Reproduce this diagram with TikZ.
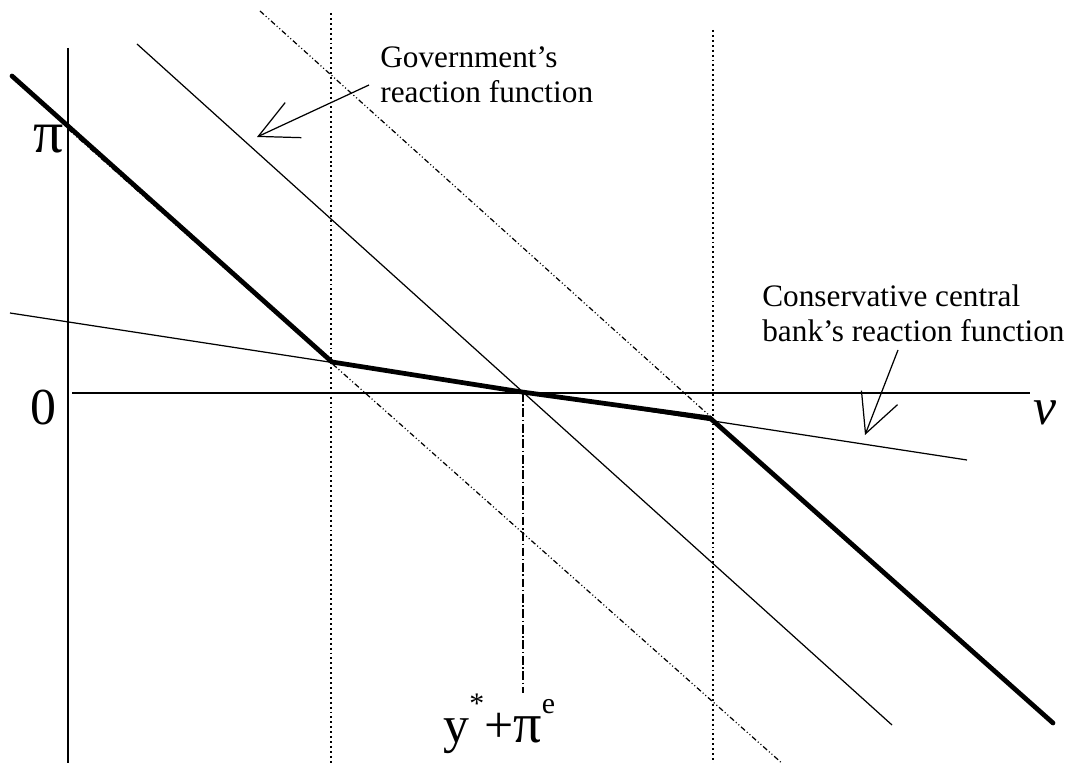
\documentclass[tikz,border=0pt]{standalone}
\usepackage{fontspec}
\setmainfont{Liberation Serif}
\usetikzlibrary{arrows.meta,positioning,calc}
\tikzset{
  axisline/.style={line width=0.7pt,draw=black},
  govline/.style={line width=0.7pt,draw=black},
  govshift/.style={line width=0.7pt,draw=black,dash pattern=on 3pt off 1.4pt on 0.6pt off 1.4pt on 0.6pt off 1.4pt},
  bankline/.style={line width=0.7pt,draw=black},
  boundline/.style={line width=1.1pt,draw=black,dash pattern=on 1.1pt off 1.7pt},
  eqline/.style={line width=0.7pt,draw=black,dash pattern=on 5pt off 1.5pt on 0.8pt off 1.5pt},
  policyline/.style={line width=2.7pt,draw=black,line cap=round,line join=round},
  notearrow/.style={-{Straight Barb[length=22pt,width=22pt]},line width=0.7pt,draw=black},
  notetext/.style={align=left,inner sep=0pt,font=\fontsize{17.8}{20.2}\selectfont},
  axislabel/.style={inner sep=0pt,font=\fontsize{29.5}{32}\selectfont}
}
\newcommand{\upidx}[1]{\raisebox{0.55em}{\fontsize{17}{17}\selectfont #1}}

\begin{document}
\begin{tikzpicture}[x=0.02cm,y=-0.02cm]
\useasboundingbox (0,0) rectangle (1069,763);
% key points of the policy line
\coordinate (start) at (12,76);
\coordinate (kinkL) at (332,362);
\coordinate (eq) at (522,392);
\coordinate (kinkR) at (710,418);
\coordinate (finish) at (1053,723);
% axes
\draw[axisline] (68,48) -- (68,763);
\draw[axisline] (72,393) -- (1030,393);
% reaction functions
\draw[govshift] (68,129) -- (784,765);
\draw[govline] (137,44) -- (892,725);
\draw[govshift] (260,11) -- (1052,724);
\draw[bankline] (10,313) -- (967,460);
% bounds and equilibrium
\draw[boundline] (331,13) -- (331,763);
\draw[boundline] (713,30) -- (713,763);
\draw[eqline] (523,393) -- (523,693);
\draw[policyline] (start) -- (kinkL) -- (eq) -- (kinkR) -- (finish);
% labels
\node[axislabel,font=\fontsize{34}{36}\selectfont] (pilabel) at (49,139) {π};
\node[axislabel] (zerolabel) at (43,408) {0};
\node[axislabel,font=\fontsize{29.5}{32}\selectfont\itshape] (vlabel) at (1045,413) {v};
\node[axislabel,anchor=base west] (eqlabel) at (443,742) {y\upidx{*}+{\fontsize{32}{32}\selectfont π}\upidx{e}};
\node[notetext,anchor=north west] (govtext) at (380,46) {Government's\\reaction function};
\node[notetext,anchor=north west] (banktext) at (762,284) {Conservative central\\bank's reaction function};
% pointers
\coordinate (govtail) at (369,85);
\coordinate (govtip) at (257,137);
\coordinate (banktail) at (898,350);
\coordinate (banktip) at (865,435);
\draw[notearrow] (govtail) -- (govtip);
\draw[notearrow] (banktail) -- (banktip);
\end{tikzpicture}
\end{document}
